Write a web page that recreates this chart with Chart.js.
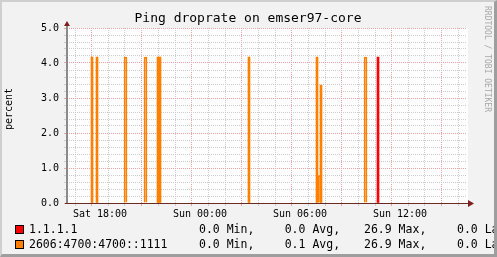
<!DOCTYPE html>
<html>
<head>
<meta charset="utf-8">
<script src="https://cdn.jsdelivr.net/npm/chart.js@4.4.0/dist/chart.umd.min.js"></script>
<style>
  html, body { margin: 0; padding: 0; }
  body {
    width: 497px; height: 257px; position: relative; overflow: hidden;
    background: #f2f2f2; font-family: "DejaVu Sans Mono", monospace;
  }
  #grafico { position: absolute; left: 0; top: 0; }
  .txt { position: absolute; white-space: pre; color: #000; }
  #titulo { left: 0; top: 10px; width: 496px; text-align: center; font-size: 13px; line-height: 16px; }
  #ejeY {
    left: -20.6px; top: 102.5px; width: 60px; height: 12px; line-height: 12px; text-align: center;
    font-size: 10px; transform: rotate(-90deg);
  }
  #firma {
    left: 432px; top: 54px; width: 110px; height: 10px; line-height: 10px; text-align: center;
    font-size: 8px; color: #a8a8a8; transform: rotate(90deg);
  }
  .leyenda { font-size: 11.5px; line-height: 14px; }
  .cuadro { position: absolute; width: 9px; height: 9px; box-sizing: border-box; border: 1px solid #000; }
  #marco {
    position: absolute; left: 0; top: 0; width: 497px; height: 257px; box-sizing: border-box;
    border-style: solid; border-width: 2px 3px 3px 2px;
    border-color: #cfcfcf #9e9e9e #9e9e9e #cfcfcf; pointer-events: none;
  }
</style>
</head>
<body>
<canvas id="grafico" width="497" height="257"></canvas>
<div class="txt" id="titulo"></div>
<div class="txt" id="ejeY"></div>
<div class="txt" id="firma"></div>
<div id="leyenda"></div>
<div id="marco"></div>
<script>
// textos
const titulo = "Ping droprate on emser97-core";
const tituloEjeY = "percent";
const firma = "RRDTOOL / TOBI OETIKER";

// eje x en horas desde sabado 00:00
const horaMin = 16.02;
const horaMax = 40.02;
const tickHoras = [18, 24, 30, 36];
const tickNombres = ["Sat 18:00", "Sun 00:00", "Sun 06:00", "Sun 12:00"];

// series (porcentaje de perdida)
const series = ["1.1.1.1", "2606:4700:4700::1111"];
const coloresSerie = ["#ff0000", "#ff8000"];

const rojoHoras = [34.68];
const rojoValores = [4.17];

const naranjaHoras = [17.52, 17.82, 21.48, 21.6, 26.94, 31.02, 31.26];
const naranjaValores = [4.17, 4.17, 4.17, 4.17, 4.17, 4.17, 3.37];

// picos que se ven huecos (solo contorno)
const naranjaHuecoHoras = [19.53, 20.73, 31.17, 33.93];
const naranjaHuecoValores = [4.17, 4.17, 0.78, 4.17];

// estadisticas de la leyenda
const minimos = [0.0, 0.0];
const promedios = [0.0, 0.1];
const maximos = [26.9, 26.9];
const ultimos = [0.0, 0.0];

const colorMenor = "#cdcdcd";
const colorMayor = "#eba3a3";

function puntos(horas, valores) {
  return horas.map((h, i) => ({ x: h, y: valores[i] }));
}

function esEntero(v) {
  return Math.abs(v - Math.round(v)) < 1e-6;
}

//fondo blanco del area del grafico
const fondo = {
  id: "fondo",
  beforeDraw(chart) {
    const { ctx, chartArea } = chart;
    ctx.save();
    ctx.fillStyle = "#ffffff";
    ctx.fillRect(chartArea.left, chartArea.top, chartArea.right - chartArea.left + 1, chartArea.bottom - chartArea.top);
    ctx.restore();
  },
};

//ejes con flechas al estilo rrdtool
const ejes = {
  id: "ejes",
  afterDraw(chart) {
    const { ctx, chartArea } = chart;
    const x0 = chartArea.left;
    const y0 = chartArea.bottom;
    ctx.save();
    ctx.fillStyle = "#8a8a8a";
    ctx.fillRect(x0 - 1, chartArea.top - 3, 2, y0 - chartArea.top + 4);
    ctx.fillStyle = "#6a2a22";
    ctx.fillRect(x0 - 2, y0, chartArea.right - x0 + 6, 1);
    ctx.fillStyle = "#801f1f";
    ctx.beginPath();
    ctx.moveTo(x0 - 3, chartArea.top - 2);
    ctx.lineTo(x0 + 3, chartArea.top - 2);
    ctx.lineTo(x0, chartArea.top - 7);
    ctx.closePath();
    ctx.fill();
    ctx.beginPath();
    ctx.moveTo(chartArea.right + 1, y0 - 3);
    ctx.lineTo(chartArea.right + 7, y0 + 0.5);
    ctx.lineTo(chartArea.right + 1, y0 + 4);
    ctx.closePath();
    ctx.fill();
    ctx.restore();
  },
};

new Chart(document.getElementById("grafico"), {
  type: "bar",
  data: {
    datasets: [
      {
        label: series[1],
        data: puntos(naranjaHoras, naranjaValores),
        backgroundColor: coloresSerie[1],
        barThickness: 2,
        grouped: false,
      },
      {
        label: series[1],
        data: puntos(naranjaHuecoHoras, naranjaHuecoValores),
        backgroundColor: "rgba(0,0,0,0)",
        borderColor: coloresSerie[1],
        borderWidth: 1,
        borderSkipped: "start",
        barThickness: 3,
        grouped: false,
      },
      {
        label: series[0],
        data: puntos(rojoHoras, rojoValores),
        backgroundColor: coloresSerie[0],
        barThickness: 2,
        grouped: false,
      },
    ],
  },
  options: {
    responsive: false,
    animation: false,
    devicePixelRatio: 1,
    layout: { padding: { left: 0, top: 28, right: 30, bottom: 34 } },
    plugins: { legend: { display: false }, tooltip: { enabled: false } },
    scales: {
      x: {
        type: "linear",
        min: horaMin,
        max: horaMax,
        offset: false,
        afterFit: (s) => {
          s.height = 20;
        },
        afterBuildTicks: (s) => {
          const t = [];
          for (let h = 17; h <= 40; h++) t.push({ value: h });
          s.ticks = t;
        },
        ticks: {
          autoSkip: false,
          maxRotation: 0,
          padding: 2,
          color: "#000",
          font: { family: "DejaVu Sans Mono", size: 10 },
          callback: (v) => {
            const i = tickHoras.indexOf(Math.round(v));
            return i >= 0 && esEntero(v) ? tickNombres[i] : "";
          },
        },
        grid: {
          color: (c) => (c.tick && Math.round(c.tick.value) % 3 === 0 ? colorMayor : colorMenor),
          tickColor: (c) => (c.tick && Math.round(c.tick.value) % 3 === 0 ? colorMayor : colorMenor),
          tickLength: 3,
        },
        border: { display: false, dash: [1, 1] },
      },
      y: {
        min: 0,
        max: 5,
        afterFit: (s) => {
          s.width = 67;
        },
        afterBuildTicks: (s) => {
          const t = [];
          for (let i = 0; i <= 25; i++) t.push({ value: i / 5 });
          s.ticks = t;
        },
        ticks: {
          autoSkip: false,
          padding: 5,
          color: "#000",
          font: { family: "DejaVu Sans Mono", size: 10 },
          callback: (v) => (esEntero(v) ? v.toFixed(1) : ""),
        },
        grid: {
          color: (c) => (c.tick && esEntero(c.tick.value) ? colorMayor : colorMenor),
          tickColor: (c) => (c.tick && esEntero(c.tick.value) ? colorMayor : colorMenor),
          tickLength: 3,
        },
        border: { display: false, dash: [1, 1] },
      },
    },
  },
  plugins: [fondo, ejes],
});

//textos y leyenda
document.getElementById("titulo").textContent = titulo;
document.getElementById("ejeY").textContent = tituloEjeY;
document.getElementById("firma").textContent = firma;

const leyenda = document.getElementById("leyenda");
const filasTop = [222, 237];
const columnasX = [29, 199, 284.7, 364, 457];
series.forEach((nombre, i) => {
  const cuadro = document.createElement("div");
  cuadro.className = "cuadro";
  cuadro.style.left = "15px";
  cuadro.style.top = filasTop[i] + 3 + "px";
  cuadro.style.background = coloresSerie[i];
  leyenda.appendChild(cuadro);

  const textos = [
    nombre,
    `${minimos[i].toFixed(1)} Min,`,
    `${promedios[i].toFixed(1)} Avg,`,
    `${maximos[i].toFixed(1)} Max,`,
    `${ultimos[i].toFixed(1)} Last`,
  ];
  textos.forEach((t, j) => {
    const d = document.createElement("div");
    d.className = "txt leyenda";
    d.style.left = columnasX[j] + "px";
    d.style.top = filasTop[i] + "px";
    d.textContent = t;
    leyenda.appendChild(d);
  });
});
</script>
</body>
</html>
